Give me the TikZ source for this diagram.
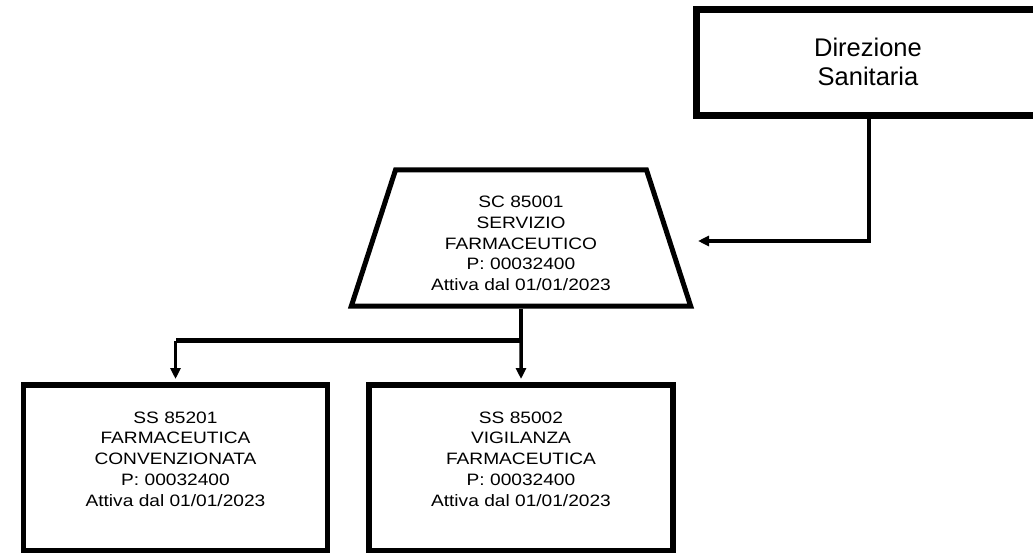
\documentclass[tikz,border=0pt]{standalone}
\usepackage{fontspec}
\setmainfont{Liberation Sans}
\newfontfamily\unitfont{Liberation Sans}[FakeStretch=1.16]
\usetikzlibrary{shapes.geometric,arrows.meta}

% stacked lines of a box, moved up by #1 while keeping the declared size
\newcommand\unittext[2]{\raisebox{#1}[\height][\depth]{\begin{tabular}{@{}c@{}}#2\end{tabular}}}

\begin{document}
\begin{tikzpicture}[x=1pt,y=-1pt,
  unitfont/.style={font=\unitfont\fontsize{16.5}{20.7}\selectfont},
  headbox/.style={draw=black, line width=7pt, rectangle, inner sep=0pt,
    minimum width=390pt, minimum height=106pt,
    font=\fontsize{25.5}{29}\selectfont},
  servicebox/.style={draw=black, line width=5pt, trapezium, trapezium angle=73,
    trapezium stretches=true, minimum width=340pt, minimum height=136pt,
    inner sep=0pt, unitfont},
  unitbox/.style={draw=black, line width=5.5pt, rectangle, inner sep=0pt,
    minimum width=304pt, minimum height=165.5pt, unitfont},
  tip/.style={-{Triangle[length=11pt,width=10pt]}},
  feed/.style={draw=black, line width=4pt, tip},
  trunk/.style={draw=black, line width=3.5pt},
  bus/.style={draw=black, line width=5.5pt},
  branch/.style={draw=black, line width=3.5pt, tip, shorten >=3pt},
]
\useasboundingbox (0,0) rectangle (1033,556);
\clip (0,0) rectangle (1033,556);
\fill[white] (0,0) rectangle (1033,556);

% organisational units (the direction box runs past the right margin)
\node[headbox] (dir) at (891,63)
  {\hspace*{-46pt}\unittext{-2pt}{Direzione\\Sanitaria}};
\node[servicebox] (sc) at (521,238)
  {\unittext{-7pt}{SC 85001\\SERVIZIO\\FARMACEUTICO\\P: 00032400\\Attiva dal 01/01/2023}};
\node[unitbox] (ss1) at (175.5,467.5)
  {\unittext{7pt}{SS 85201\\FARMACEUTICA\\CONVENZIONATA\\P: 00032400\\Attiva dal 01/01/2023}};
\node[unitbox] (ss2) at (521,467.5)
  {\unittext{7pt}{SS 85002\\VIGILANZA\\FARMACEUTICA\\P: 00032400\\Attiva dal 01/01/2023}};

% link from the direction to the service
\coordinate (scin) at (698,241);
\draw[feed] ([xshift=-22pt]dir.south) |- (scin);

% service to its two sub-units
\coordinate (fork) at ([yshift=-32pt]sc.south);
\draw[trunk] (sc.south) -- (fork);
\draw[bus] (fork) -- (fork -| ss1.north);
\draw[branch] (fork -| ss1.north) -- (ss1.north);
\draw[branch] (fork) -- (ss2.north);
\end{tikzpicture}
\end{document}
